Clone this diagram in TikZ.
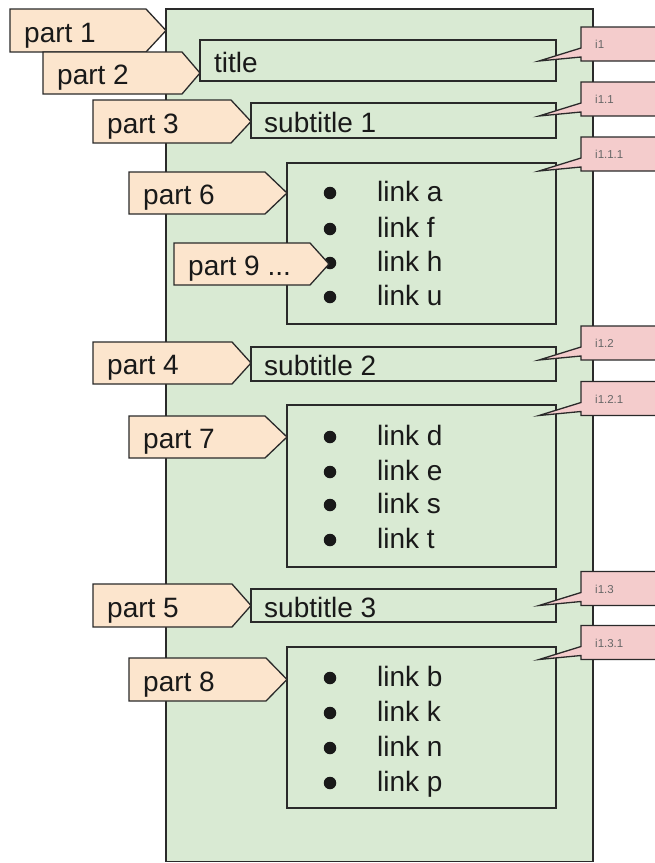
\documentclass[tikz,border=0pt]{standalone}
\usepackage{fontspec}
\setmainfont{Liberation Sans}

\definecolor{panelgreen}{HTML}{D9EAD3}
\definecolor{tagpeach}{HTML}{FCE5CD}
\definecolor{notepink}{HTML}{F4CCCC}
\definecolor{edgeline}{HTML}{2A2A2A}
\definecolor{notegray}{HTML}{666666}

\tikzset{
  panel/.style={draw=edgeline, fill=panelgreen, line width=1.3pt, anchor=north west,
                inner sep=0pt, outer sep=0pt},
  tagshape/.style={draw=edgeline, fill=tagpeach, line width=1.3pt, line join=miter},
  noteshape/.style={draw=edgeline, fill=notepink, line width=1.3pt, line join=miter},
  bigtext/.style={anchor=base west, inner sep=0pt, font=\fontsize{28}{32}\selectfont, text=black!90},
  notetext/.style={anchor=base west, inner sep=0pt, font=\fontsize{11.5}{13}\selectfont, text=notegray},
  dot/.style={circle, fill=black!90, inner sep=0pt, minimum size=12.5pt},
}

% pointed label: name, left, top, shoulder x, tip x, bottom, text
\newcommand\parttag[7]{%
  \draw[tagshape] (#2,#3) -- (#4,#3) -- (#5,{(#3+#6)/2}) -- (#4,#6) -- (#2,#6) -- cycle;
  \coordinate (#1-tip) at (#5,{(#3+#6)/2});
  \node[bigtext] (#1) at (#2+14,{(#3+#6)/2+11.5}) {#7};
}

% pink note with a wedge pointing left into a box: name, top, text
\newcommand\notecallout[3]{%
  \draw[noteshape] (581,#2) -- (664,#2) -- (664,#2+34) -- (581,#2+34) -- (581,#2+30)
     -- (539,#2+34) -- (581,#2+21) -- cycle;
  \node[notetext] (#1) at (595,#2+21.5) {#3};
}

% one bulleted line of a list: name, row centre y, text
\newcommand\listrow[3]{%
  \node[dot] (#1-dot) at (330,#2) {};
  \node[bigtext] (#1) at (377,#2+8) {#3};
}

\begin{document}
\begin{tikzpicture}[x=1pt, y=-1pt]
  \useasboundingbox (0,0) rectangle (654,863);

  % outer page panel
  \node[panel, minimum width=427pt, minimum height=852.5pt] (page) at (166,9) {};

  % title and sections
  \node[panel, minimum width=356pt, minimum height=41pt] (titlebox) at (200,40) {};
  \node[bigtext] (titletext) at (214,72) {title};

  \node[panel, minimum width=305pt, minimum height=35pt] (sub1) at (251,103) {};
  \node[bigtext] (sub1text) at (264,132) {subtitle 1};

  \node[panel, minimum width=269pt, minimum height=161pt] (list1) at (287,163) {};
  \listrow{la}{193}{link a}
  \listrow{lf}{229}{link f}
  \listrow{lh}{263}{link h}
  \listrow{lu}{297}{link u}

  \node[panel, minimum width=305pt, minimum height=34pt] (sub2) at (251,347) {};
  \node[bigtext] (sub2text) at (264,375.5) {subtitle 2};

  \node[panel, minimum width=269pt, minimum height=162pt] (list2) at (287,405) {};
  \listrow{ld}{437}{link d}
  \listrow{le}{472}{link e}
  \listrow{ls}{505}{link s}
  \listrow{lt}{540}{link t}

  \node[panel, minimum width=305pt, minimum height=33pt] (sub3) at (251,589) {};
  \node[bigtext] (sub3text) at (264,617) {subtitle 3};

  \node[panel, minimum width=269pt, minimum height=161pt] (list3) at (287,647) {};
  \listrow{lb}{678}{link b}
  \listrow{lk}{713}{link k}
  \listrow{ln}{748}{link n}
  \listrow{lp}{783}{link p}

  % part labels
  \parttag{part1}{10}{9}{146}{166}{52}{part 1}
  \parttag{part2}{43}{52}{182}{200}{94}{part 2}
  \parttag{part3}{93}{100}{231}{251}{143}{part 3}
  \parttag{part6}{129}{172}{265}{287}{214}{part 6}
  \parttag{part9}{174}{243}{310}{329}{285}{part 9 ...}
  \parttag{part4}{93}{342}{232}{251}{384}{part 4}
  \parttag{part7}{129}{416}{265}{287}{458}{part 7}
  \parttag{part5}{93}{584}{232}{251}{627}{part 5}
  \parttag{part8}{129}{658}{266}{287}{701}{part 8}

  % id notes
  \notecallout{n1}{27}{i1}
  \notecallout{n11}{82}{i1.1}
  \notecallout{n111}{137}{i1.1.1}
  \notecallout{n12}{326}{i1.2}
  \notecallout{n121}{381.5}{i1.2.1}
  \notecallout{n13}{571.5}{i1.3}
  \notecallout{n131}{625.5}{i1.3.1}
\end{tikzpicture}
\end{document}
